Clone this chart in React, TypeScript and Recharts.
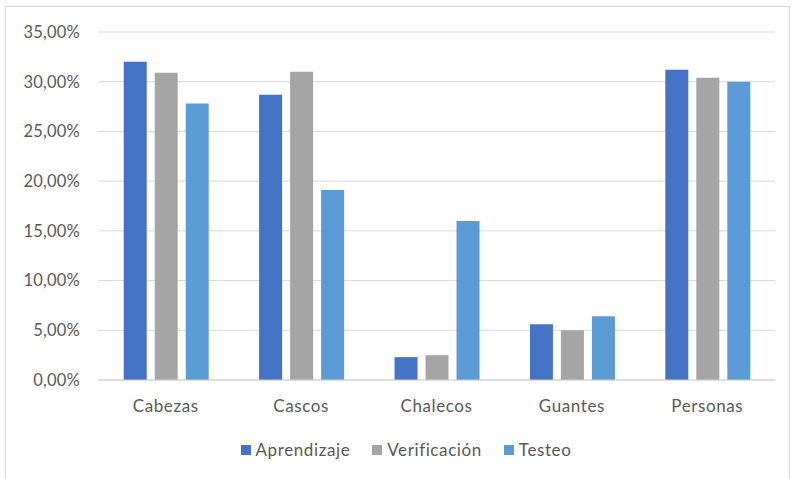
import React from "react";
import { BarChart, Bar, XAxis, YAxis, CartesianGrid } from "recharts";

const categories = ["Cabezas", "Cascos", "Chalecos", "Guantes", "Personas"];
const aprendizaje = [32.0, 28.7, 2.3, 5.6, 31.2];
const verificacion = [30.9, 31.0, 2.5, 5.0, 30.4];
const testeo = [27.8, 19.1, 16.0, 6.4, 30.0];
const yTicks = [0, 5, 10, 15, 20, 25, 30, 35];
const seriesNames = ["Aprendizaje", "Verificación", "Testeo"];
const seriesColors = ["#4472C4", "#A5A5A5", "#5B9BD5"];

const data = categories.map((c, i) => ({
  name: c,
  Aprendizaje: aprendizaje[i],
  "Verificación": verificacion[i],
  Testeo: testeo[i],
}));

const fmt = (v: number) => v.toFixed(2).replace(".", ",") + "%";
const font = "Lato, 'Open Sans', sans-serif";

export default function App() {
  return (
    <div style={{ position: "absolute", left: 0, top: 0, width: 797, height: 479, background: "#fff", fontFamily: font, overflow: "hidden" }}>
      <div style={{ position: "absolute", left: 5, top: 6, width: 785, height: 480, border: "1px solid #d9d9d9", boxSizing: "border-box" }} />
      <BarChart
        width={797}
        height={479}
        data={data}
        margin={{ top: 32, right: 22, left: 0, bottom: 69 }}
        barCategoryGap="19%"
        barGap={8}
      >
        <CartesianGrid vertical={false} stroke="#d9d9d9" />
        <XAxis
          dataKey="name"
          tickLine={false}
          tickSize={0}
          tickMargin={20}
          axisLine={{ stroke: "#d0d0d0" }}
          height={30}
          tick={{ fill: "#595959", fontSize: 17, fontFamily: font, letterSpacing: 0.6 }}
        />
        <YAxis
          width={98}
          domain={[0, 35]}
          ticks={yTicks}
          tickFormatter={fmt}
          axisLine={false}
          tickLine={false}
          tickSize={0}
          tickMargin={18}
          tick={{ fill: "#595959", fontSize: 16.5, fontFamily: font, letterSpacing: 0.2 }}
        />
        {seriesNames.map((s, i) => (
          <Bar key={s} dataKey={s} fill={seriesColors[i]} isAnimationActive={false} />
        ))}
      </BarChart>
      <div
        style={{
          position: "absolute",
          left: 15,
          width: 782,
          top: 439,
          display: "flex",
          justifyContent: "center",
          gap: 22,
          fontSize: 17,
          letterSpacing: 0.6,
          color: "#595959",
          lineHeight: "22px",
        }}
      >
        {seriesNames.map((s, i) => (
          <div key={s} style={{ display: "flex", alignItems: "center", gap: 5 }}>
            <span style={{ width: 10, height: 10, background: seriesColors[i], display: "inline-block" }} />
            <span>{s}</span>
          </div>
        ))}
      </div>
    </div>
  );
}
